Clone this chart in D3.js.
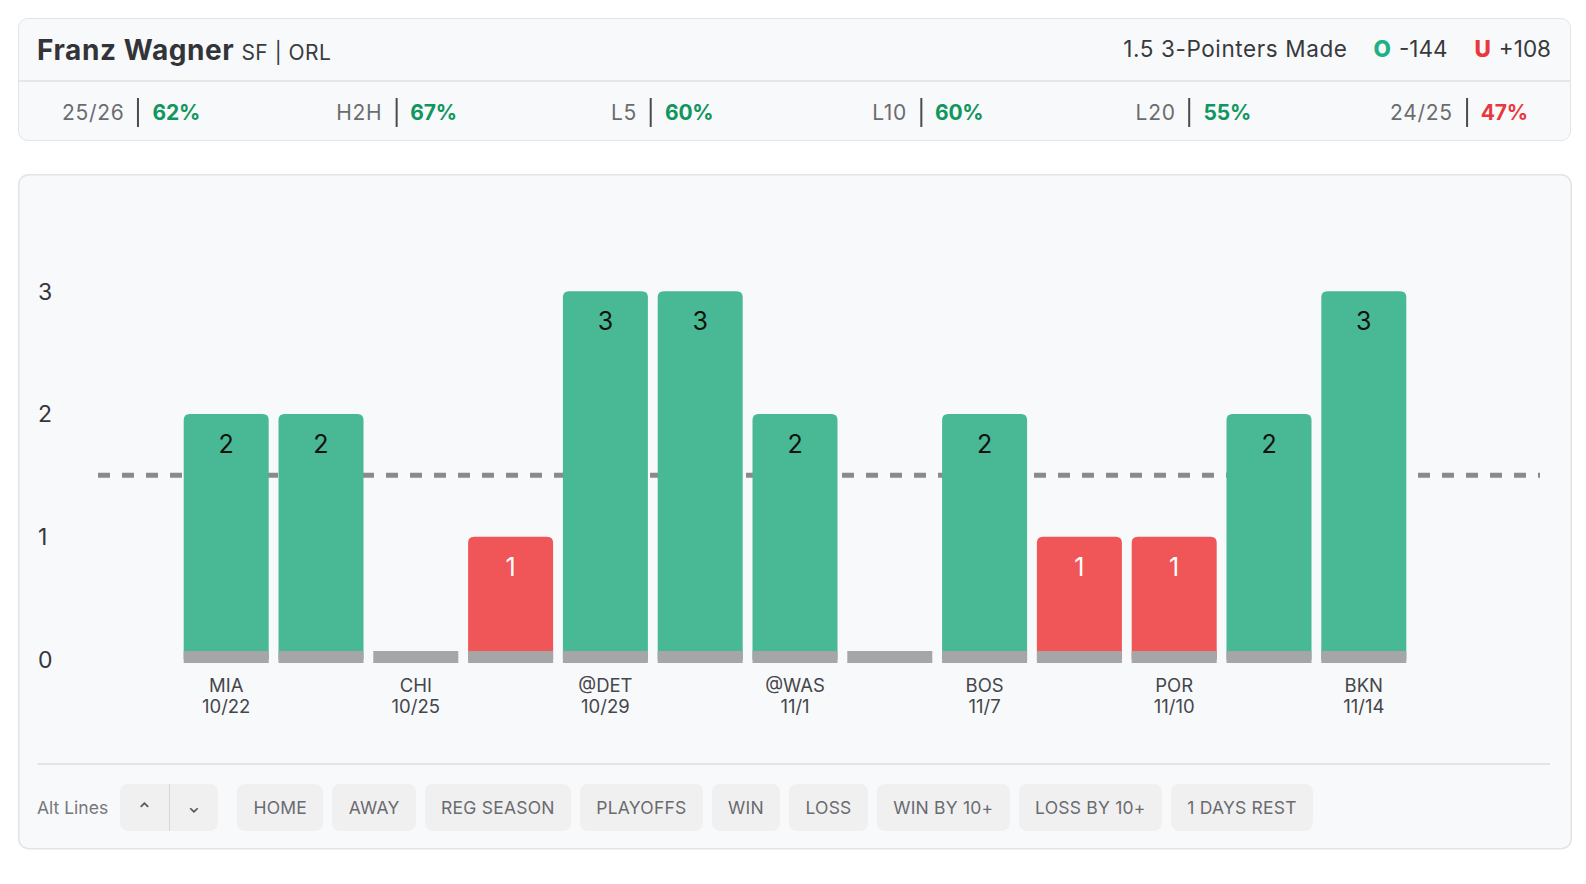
<!DOCTYPE html>
<html>
<head>
<meta charset="utf-8">
<script src="https://cdn.jsdelivr.net/npm/d3@7/dist/d3.min.js"></script>
<style>
  body { margin: 0; background: #fff; font-family: Inter, "Noto Sans", sans-serif; }
  #root { position: relative; width: 1586px; height: 884px; overflow: hidden; }
  .card { position: absolute; box-sizing: border-box; background: #f8f9fb; border: 1.5px solid #e2e4e7; border-radius: 10px; }
  .top-row { height: 61px; border-bottom: 2px solid #e5e7ea; display: flex; align-items: center; justify-content: space-between; padding: 0 19px 0 18px; }
  .name { font-weight: 700; font-size: 28px; color: #333438; letter-spacing: 0.6px; }
  .pos { font-size: 21px; color: #3a3b3f; margin-left: 7px; letter-spacing: 0.5px; }
  .prop { font-size: 22.5px; color: #38393d; display: flex; align-items: center; margin-top: -2px; }
  .prop .name-l { letter-spacing: 0.6px; }
  .prop .o { color: #1db184; font-weight: 800; margin-left: 26px; margin-right: 8px; }
  .prop .u { color: #e8393e; font-weight: 800; margin-left: 27px; margin-right: 8px; }
  .stats { position: relative; height: 60px; }
  .stat { position: absolute; top: 0; height: 60px; transform: translateX(-50%); display: flex; align-items: center; font-size: 21px; white-space: nowrap; }
  .stat .lbl { color: #6b6c70; letter-spacing: 0.7px; }
  .stat .bar { width: 2px; height: 29px; background: #4a4b4f; margin: 0 13px 0 13px; }
  .stat .val { font-weight: 700; letter-spacing: -0.2px; }
  #chart { position: absolute; left: 0; top: 0; }
  .footer { position: absolute; left: 37px; top: 783px; height: 48px; display: flex; align-items: center; }
  .alt { font-size: 17.5px; color: #76777b; margin-right: 12px; }
  .arrows { display: flex; height: 47px; width: 98px; background: #f0f0f1; border-radius: 8px; margin-right: 19px; }
  .arrows div { flex: 1; display: flex; align-items: center; justify-content: center; color: #555; font-size: 14px; font-weight: 700; }
  .arrows div:first-child { border-right: 1.5px solid #d6d6d8; }
  .btn { height: 47px; box-sizing: border-box; padding: 0 16.3px; margin-right: 9px; background: #f0f0f1; border-radius: 8px; display: flex; align-items: center; font-size: 17.5px; color: #6a6b6f; letter-spacing: 0.22px; }
</style>
</head>
<body>
<div id="root"></div>
<script>
// games, oldest to newest
const values = [2, 2, 0, 1, 3, 3, 2, 0, 2, 1, 1, 2, 3];
const opponents = ['MIA', '', 'CHI', '', '@DET', '', '@WAS', '', 'BOS', '', 'POR', '', 'BKN'];
const dates = ['10/22', '', '10/25', '', '10/29', '', '11/1', '', '11/7', '', '11/10', '', '11/14'];
const propLine = 1.5;
const yTicks = [0, 1, 2, 3];

const statLabels = ['25/26', 'H2H', 'L5', 'L10', 'L20', '24/25'];
const statValues = [62, 67, 60, 60, 55, 47];

const filters = ['HOME', 'AWAY', 'REG SEASON', 'PLAYOFFS', 'WIN', 'LOSS', 'WIN BY 10+', 'LOSS BY 10+', '1 DAYS REST'];

const GREEN = '#48b994', RED = '#f05558', BASE = '#a6a6a6';

const root = d3.select('#root');

// header card
const head = root.append('div').attr('class', 'card')
  .style('left', '18px').style('top', '18px').style('width', '1553px').style('height', '123px');

const topRow = head.append('div').attr('class', 'top-row');
const who = topRow.append('div');
who.append('span').attr('class', 'name').text('Franz Wagner');
who.append('span').attr('class', 'pos').text('SF | ORL');

const prop = topRow.append('div').attr('class', 'prop');
prop.append('span').attr('class', 'name-l').text('1.5 3-Pointers Made');
prop.append('span').attr('class', 'o').text('O');
prop.append('span').text('-144');
prop.append('span').attr('class', 'u').text('U');
prop.append('span').text('+108');

// hit-rate groups sit on evenly spaced centres
const sx = d3.scalePoint().domain(statLabels).range([112, 1440]);
const stats = head.append('div').attr('class', 'stats');
statLabels.forEach((l, i) => {
  const s = stats.append('div').attr('class', 'stat').style('left', sx(l) + 'px');
  s.append('span').attr('class', 'lbl').text(l);
  s.append('span').attr('class', 'bar');
  s.append('span').attr('class', 'val')
    .style('color', statValues[i] >= 50 ? '#10965f' : '#e8393e')
    .text(statValues[i] + '%');
});

// chart
const svg = root.append('svg').attr('id', 'chart').attr('width', 1586).attr('height', 884);

svg.append('rect')
  .attr('x', 18.75).attr('y', 174.75).attr('width', 1552.5).attr('height', 674)
  .attr('rx', 10).attr('fill', '#f8f9fb').attr('stroke', '#e2e4e7').attr('stroke-width', 1.5);

const x = d3.scaleBand()
  .domain(d3.range(values.length))
  .range([183.7, 1406.3])
  .paddingInner(0.1034);

const y = d3.scaleLinear().domain([0, 3]).range([659.4, 291.3]);

// y tick labels
svg.append('g').selectAll('text')
  .data(yTicks)
  .join('text')
  .attr('x', 38)
  .attr('y', d => y(d))
  .attr('dy', '0.36em')
  .attr('font-size', 23)
  .attr('fill', '#35363a')
  .text(d => d);

// prop line
svg.append('line')
  .attr('x1', 98).attr('x2', 1540)
  .attr('y1', y(propLine)).attr('y2', y(propLine))
  .attr('stroke', '#8a8a8a').attr('stroke-width', 5)
  .attr('stroke-dasharray', '12 12');

function topRounded(x0, y0, w, h, r) {
  if (h <= 0) return '';
  r = Math.min(r, h, w / 2);
  return `M${x0},${y0 + h}V${y0 + r}Q${x0},${y0} ${x0 + r},${y0}H${x0 + w - r}Q${x0 + w},${y0} ${x0 + w},${y0 + r}V${y0 + h}Z`;
}

const g = svg.append('g');

g.selectAll('path.bar')
  .data(values.map((v, i) => ({ v, i })))
  .join('path')
  .attr('class', 'bar')
  .attr('d', d => topRounded(x(d.i), y(d.v), x.bandwidth(), y(0) - y(d.v), 6))
  .attr('fill', d => d.v > propLine ? GREEN : RED);

// grey base strip under every game
g.selectAll('rect.base')
  .data(values.map((v, i) => i))
  .join('rect')
  .attr('class', 'base')
  .attr('x', i => x(i))
  .attr('y', y(0) - 8.4)
  .attr('width', x.bandwidth())
  .attr('height', 12)
  .attr('fill', BASE);

// value labels
g.selectAll('text.val')
  .data(values.map((v, i) => ({ v, i })).filter(d => d.v > 0))
  .join('text')
  .attr('class', 'val')
  .attr('x', d => x(d.i) + x.bandwidth() / 2)
  .attr('y', d => y(d.v) + 39)
  .attr('text-anchor', 'middle')
  .attr('font-size', 25)
  .attr('fill', d => d.v > propLine ? '#111' : '#fff')
  .text(d => d.v);

// x labels
const xl = g.selectAll('g.xl')
  .data(d3.range(values.length).filter(i => opponents[i]))
  .join('g')
  .attr('class', 'xl')
  .attr('transform', i => `translate(${x(i) + x.bandwidth() / 2},0)`);
xl.append('text').attr('y', 692.3).attr('text-anchor', 'middle')
  .attr('font-size', 18.5).attr('fill', '#45464a').text(i => opponents[i]);
xl.append('text').attr('y', 713.3).attr('text-anchor', 'middle')
  .attr('font-size', 18.5).attr('fill', '#45464a').text(i => dates[i]);

// separator
svg.append('line')
  .attr('x1', 37.5).attr('x2', 1550).attr('y1', 764).attr('y2', 764)
  .attr('stroke', '#e3e4e6').attr('stroke-width', 2);

// footer
const foot = root.append('div').attr('class', 'footer');
foot.append('span').attr('class', 'alt').text('Alt Lines');
const arr = foot.append('div').attr('class', 'arrows');
arr.append('div').html('&#8963;');
arr.append('div').html('&#8964;');
foot.selectAll('div.btn')
  .data(filters)
  .join('div')
  .attr('class', 'btn')
  .text(d => d);
</script>
</body>
</html>
